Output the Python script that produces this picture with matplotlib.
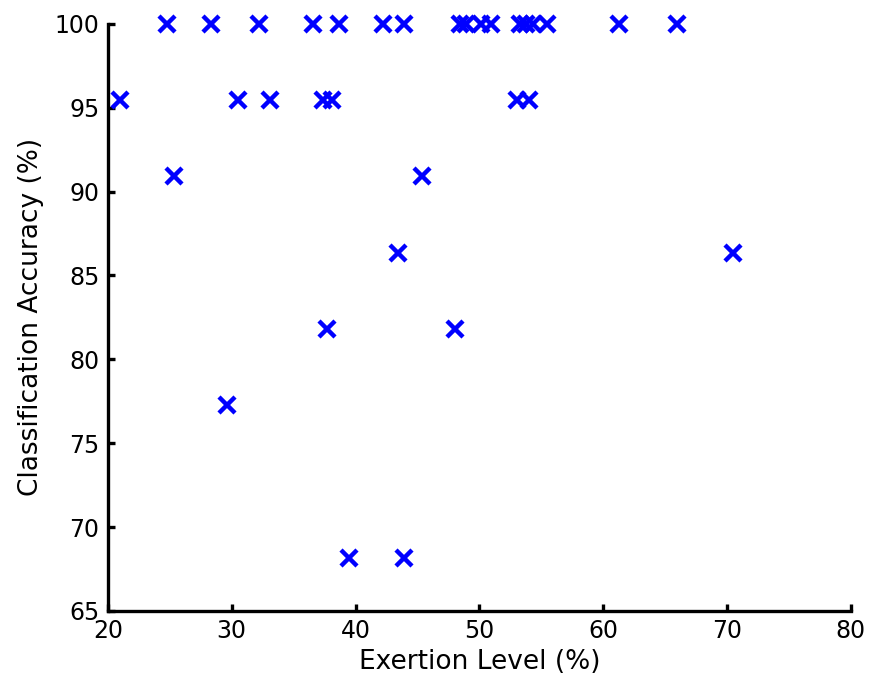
import matplotlib
matplotlib.use("Agg")
import matplotlib.pyplot as plt

# exertion level (%) and classification accuracy (%) per subject/trial
exertion = [24.8, 28.3, 32.2, 36.6, 38.7, 42.2, 43.9, 48.4, 48.9, 50.1, 50.9,
            53.3, 53.8, 54.3, 55.5, 61.3, 66.0,
            21.0, 30.5, 33.1, 37.4, 38.1, 53.0, 54.0,
            25.3, 45.4,
            43.4, 70.5,
            37.7, 48.0,
            29.6,
            39.5, 43.9]
accuracy = [100] * 17 + [95.45] * 7 + [90.91] * 2 + [86.36] * 2 + \
           [81.82] * 2 + [77.27] + [68.18] * 2

xticks = [20, 30, 40, 50, 60, 70, 80]
yticks = [65, 70, 75, 80, 85, 90, 95, 100]

plt.rcParams['font.family'] = ['DejaVu Sans']

fig = plt.figure(figsize=(8.7, 6.8), dpi=100)
ax = fig.add_axes([0.124, 0.1015, 0.854, 0.8635])

ax.plot(exertion, accuracy, 'x', color='#0000ff', markersize=12,
        markeredgewidth=3.2, clip_on=False)

ax.set_xlim(20, 80)
ax.set_ylim(65, 100)
ax.set_xticks(xticks)
ax.set_yticks(yticks)
ax.set_xlabel('Exertion Level (%)', fontsize=19, labelpad=4)
ax.set_ylabel('Classification Accuracy (%)', fontsize=19, labelpad=8)

for side in ['top', 'right']:
    ax.spines[side].set_visible(False)
for side in ['left', 'bottom']:
    ax.spines[side].set_linewidth(2.4)
ax.tick_params(direction='in', length=5, width=2.4, labelsize=17, pad=6)

fig.savefig('out.png', dpi=100)
